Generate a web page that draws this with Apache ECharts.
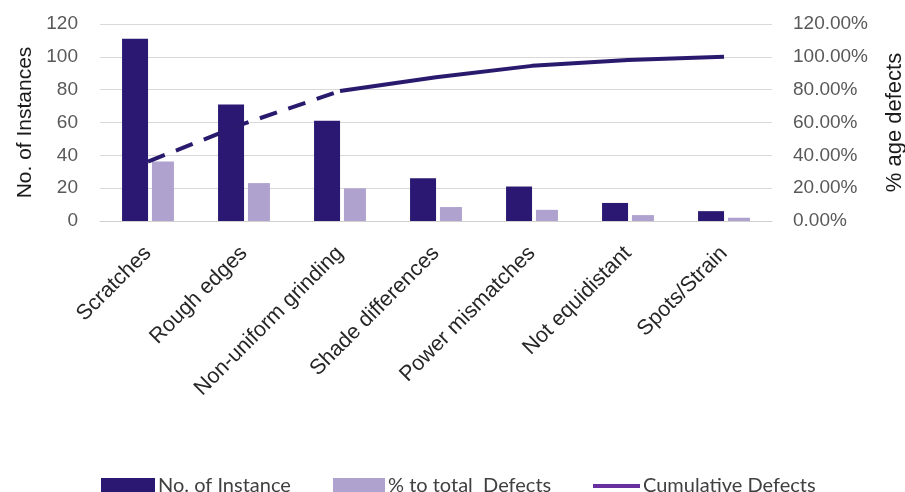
<!DOCTYPE html>
<html>
<head>
<meta charset="utf-8">
<script src="https://cdn.jsdelivr.net/npm/echarts@6/dist/echarts.min.js"></script>
<style>html,body{margin:0;padding:0;background:#fff;}#c{width:905px;height:492px;}</style>
</head>
<body>
<div id="c"></div>
<script>
const categories = ['Scratches', 'Rough edges', 'Non-uniform grinding', 'Shade differences', 'Power mismatches', 'Not equidistant', 'Spots/Strain'];
const instances = [111, 71, 61, 26, 21, 11, 6];
const pctTotal = [36.2, 23.1, 19.9, 8.5, 6.8, 3.6, 2.0];
const cumDashed = [36.2, 59.3, 79.2, null, null, null, null];
const cumSolid = [null, null, 79.2, 87.6, 94.5, 98.0, 100];
const leftTicks = [0, 120, 20];
const rightTicks = [0, 120, 20];

const chart = echarts.init(document.getElementById('c'));
const dark = '#2a1872', light = '#b0a2cf', lineCol = '#2a1a6e', legLine = '#6a2f9e';
const FONT = 'Arial, "Liberation Sans", sans-serif';
const legendText = {fontFamily: 'Lato', fontSize: 20, color: '#404040', padding: [0, 0, 0, -2]};
chart.setOption({
  animation: false,
  grid: {left: 100, right: 133, top: 24, bottom: 271, outerBoundsMode: 'none', containLabel: false},
  legend: [
    {left: 96, top: 471, itemWidth: 54, itemHeight: 16, icon: 'rect', textStyle: legendText, padding: 5,
      data: [{name: 'No. of Instance', itemStyle: {color: dark}}]},
    {left: 328, top: 471, itemWidth: 52, itemHeight: 16, icon: 'rect', textStyle: legendText, padding: 5,
      data: [{name: '% to total  Defects', itemStyle: {color: light}}]},
    {left: 588, top: 471, itemWidth: 47, itemHeight: 4, icon: 'rect', textStyle: legendText, padding: 5,
      data: [{name: 'Cumulative Defects', itemStyle: {color: legLine}}]}
  ],
  xAxis: {
    type: 'category', data: categories,
    axisLine: {lineStyle: {color: '#d0d0d0', width: 1}},
    axisTick: {show: false},
    axisLabel: {rotate: 45, interval: 0, margin: 29, fontFamily: FONT, fontSize: 21.5, color: '#262626'}
  },
  yAxis: [
    {type: 'value', min: leftTicks[0], max: leftTicks[1], interval: leftTicks[2],
      name: 'No. of Instances', nameLocation: 'middle', nameRotate: 90, nameGap: 62,
      nameTextStyle: {fontFamily: FONT, fontSize: 21, color: '#1a1a1a'},
      axisLabel: {fontFamily: FONT, fontSize: 19, color: '#595959', margin: 22},
      splitLine: {lineStyle: {color: '#d9d9d9', width: 1}},
      axisLine: {show: false}, axisTick: {show: false}},
    {type: 'value', min: rightTicks[0], max: rightTicks[1], interval: rightTicks[2],
      name: '% age defects', nameLocation: 'middle', nameRotate: 90, nameGap: 112,
      nameTextStyle: {fontFamily: FONT, fontSize: 22, color: '#1a1a1a'},
      axisLabel: {fontFamily: FONT, fontSize: 19, color: '#595959', margin: 21,
        formatter: v => v.toFixed(2) + '%'},
      splitLine: {show: false}, axisLine: {show: false}, axisTick: {show: false}}
  ],
  series: [
    {name: 'No. of Instance', type: 'bar', data: instances, barWidth: 26, barGap: '15%',
      itemStyle: {color: dark}},
    {name: '% to total  Defects', type: 'bar', yAxisIndex: 1, data: pctTotal, barWidth: 22,
      itemStyle: {color: light}},
    {name: 'Cumulative Defects', type: 'line', yAxisIndex: 1, data: cumDashed, showSymbol: false, symbol: 'none',
      lineStyle: {color: lineCol, width: 4, type: [18, 12]}, itemStyle: {color: lineCol}, z: 5},
    {name: 'Cumulative Defects', type: 'line', yAxisIndex: 1, data: cumSolid, showSymbol: false, symbol: 'none',
      lineStyle: {color: lineCol, width: 4}, itemStyle: {color: lineCol}, z: 5}
  ]
});
</script>
</body>
</html>
